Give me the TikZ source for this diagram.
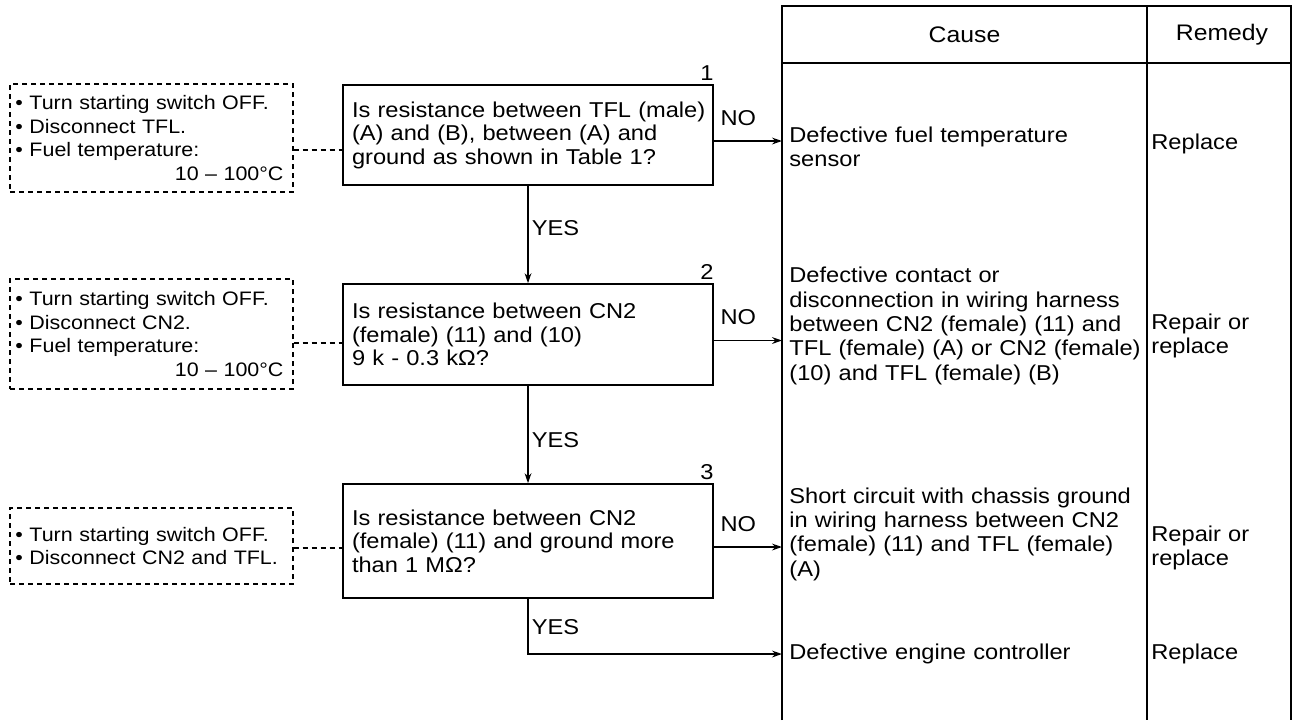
\documentclass[tikz,border=0pt]{standalone}
\usepackage{fontspec}
\setmainfont{Liberation Sans}[FakeStretch=1.1]
\usetikzlibrary{arrows.meta,calc}
\newcommand\fsA{\fontsize{10.75pt}{11.75pt}\selectfont}
\newcommand\fsC{\fontsize{10.75pt}{12.15pt}\selectfont}
\newcommand\fsD{\fontsize{9.75pt}{11.75pt}\selectfont}
\newcommand\fsH{\fontsize{11.25pt}{13pt}\selectfont}
\begin{document}
\begin{tikzpicture}[x=0.5pt,y=-0.5pt,
  qbox/.style={draw, line width=0.8pt, minimum width=185pt, text width=176pt, inner xsep=4.5pt, align=left, font=\fsA},
  dbox/.style={draw, dash pattern=on 2.5pt off 2pt, line width=0.6pt, minimum width=141.5pt, text width=136pt, inner xsep=2.75pt, align=left, font=\fsD},
  cause/.style={anchor=west, text width=178pt, inner xsep=3.5pt, align=left, font=\fsC},
  remedy/.style={anchor=west, text width=64pt, inner xsep=2pt, align=left, font=\fsC},
  head/.style={font=\fsH},
  lab/.style={font=\fsA, inner sep=0pt},
  arr/.style={line width=0.8pt, -{Stealth[length=5pt,width=3.4pt]}},
  dline/.style={line width=0.6pt, dash pattern=on 2.5pt off 2pt},
  tline/.style={line width=0.8pt},
]
\useasboundingbox (0,0) rectangle (1300,720);

% table
\draw[tline] (782,720) -- (782,6) -- (1291,6) -- (1291,720);
\draw[tline] (782,63) -- (1291,63);
\draw[tline] (1147,6) -- (1147,720);
\node[head] (hc) at (964.5,35) {Cause};
\node[head] (hr) at (1222,35) {Remedy};

% causes
\node[cause] (c1) at (782,147) {Defective fuel temperature\\sensor};
\node[cause] (c2) at (782,326) {Defective contact or\\disconnection in wiring harness\\between CN2 (female) (11) and\\TFL (female) (A) or CN2 (female)\\(10) and TFL (female) (B)};
\node[cause] (c3) at (782,534) {Short circuit with chassis ground\\in wiring harness between CN2\\(female) (11) and TFL (female)\\(A)};
\node[cause] (c4) at (782,654) {Defective engine controller};

% remedies
\node[remedy] (r1) at (1147,144) {Replace};
\node[remedy] (r2) at (1147,336) {Repair or\\replace};
\node[remedy] (r3) at (1147,548) {Repair or\\replace};
\node[remedy] (r4) at (1147,654) {Replace};

% question boxes
\node[qbox, minimum height=50pt] (q1) at (528,135) {\mbox{Is resistance between TFL (male)}\\(A) and (B), between (A) and\\ground as shown in Table 1?};
\node[qbox, minimum height=50.5pt] (q2) at (528,334.5) {Is resistance between CN2\\(female) (11) and (10)\\9 k - 0.3 kΩ?};
\node[qbox, minimum height=57pt] (q3) at (528,541) {Is resistance between CN2\\(female) (11) and ground more\\than 1 MΩ?};

\node[lab, anchor=south east, yshift=1.5pt] (n1) at (q1.north east) {1};
\node[lab, anchor=south east, yshift=1.5pt] (n2) at (q2.north east) {2};
\node[lab, anchor=south east, yshift=1.5pt] (n3) at (q3.north east) {3};

% condition boxes
\node[dbox, minimum height=54pt] (d1) at (151.5,138) {• Turn starting switch OFF.\\• Disconnect TFL.\\• Fuel temperature:\\\makebox[134pt][r]{10 – 100°C}};
\node[dbox, minimum height=55pt] (d2) at (151.5,334) {• Turn starting switch OFF.\\• Disconnect CN2.\\• Fuel temperature:\\\makebox[134pt][r]{10 – 100°C}};
\node[dbox, minimum height=38pt] (d3) at (151.5,546) {• Turn starting switch OFF.\\• Disconnect CN2 and TFL.};

% dashed links
\draw[dline] ([yshift=-6pt]d1.east) -- ([yshift=-6pt]d1.east -| q1.west);
\draw[dline] ([yshift=-4.5pt]d2.east) -- ([yshift=-4.5pt]d2.east -| q2.west);
\draw[dline] ([yshift=-1pt]d3.east) -- ([yshift=-1pt]d3.east -| q3.west);

% YES flow
\draw[arr] (q1.south) -- node[lab, anchor=west, pos=0.43, xshift=1.5pt] {YES} (q2.north);
\draw[arr] (q2.south) -- node[lab, anchor=west, pos=0.56, xshift=1.5pt] {YES} (q3.north);
\draw[arr] (q3.south) |- node[lab, anchor=west, pos=0.26, xshift=1.5pt] {YES} (c4.west);

% NO flow
\draw[arr] ([yshift=-3pt]q1.east) -- node[lab, anchor=base, pos=0.36, yshift=8pt] {NO} ([yshift=-3pt]q1.east -| c1.west);
\draw[arr] ([yshift=-3pt]q2.east) -- node[lab, anchor=base, pos=0.36, yshift=8pt] {NO} ([yshift=-3pt]q2.east -| c2.west);
\draw[arr] ([yshift=-3pt]q3.east) -- node[lab, anchor=base, pos=0.36, yshift=8pt] {NO} ([yshift=-3pt]q3.east -| c3.west);
\end{tikzpicture}
\end{document}
